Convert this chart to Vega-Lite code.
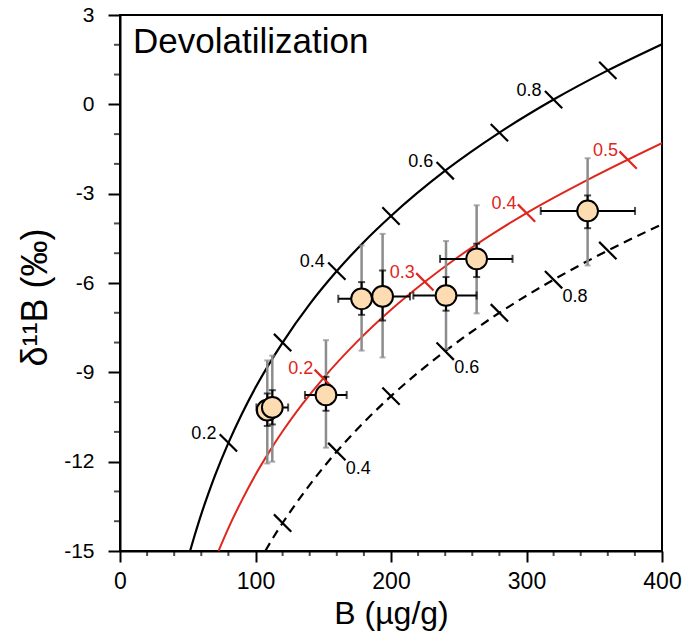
{
  "$schema": "https://vega.github.io/schema/vega-lite/v6.json",
  "width": 542,
  "height": 536,
  "autosize": {"type": "none"},
  "padding": {"left": 120, "top": 15, "right": 23, "bottom": 86},
  "background": "white",
  "config": {
    "view": {"stroke": "black", "strokeWidth": 2},
    "font": "Liberation Sans",
    "axis": {"grid": false, "domainColor": "black", "domainWidth": 2, "tickColor": "black", "tickWidth": 2, "labelColor": "black", "titleColor": "black", "labelFont": "Liberation Sans", "titleFont": "Liberation Sans", "titleFontWeight": "normal", "labelFlush": false, "labelOverlap": false}
  },
  "datasets": {
    "solid": [
      {"x": 51.7, "y": -15}, {"x": 55, "y": -14.49}, {"x": 60, "y": -13.76}, {"x": 65, "y": -13.1}, {"x": 70, "y": -12.48}, {"x": 80, "y": -11.37}, {"x": 90, "y": -10.39}, {"x": 100, "y": -9.51}, {"x": 120, "y": -8.0}, {"x": 140, "y": -6.71}, {"x": 160, "y": -5.6}, {"x": 180, "y": -4.62}, {"x": 200, "y": -3.75}, {"x": 240, "y": -2.23}, {"x": 280, "y": -0.95}, {"x": 320, "y": 0.16}, {"x": 360, "y": 1.14}, {"x": 400, "y": 2.02}
    ],
    "red": [
      {"x": 72.7, "y": -15}, {"x": 80, "y": -14.23}, {"x": 90, "y": -13.29}, {"x": 100, "y": -12.44}, {"x": 110, "y": -11.68}, {"x": 120, "y": -10.98}, {"x": 135, "y": -10.04}, {"x": 150, "y": -9.2}, {"x": 175, "y": -7.97}, {"x": 200, "y": -6.9}, {"x": 225, "y": -5.96}, {"x": 250, "y": -5.11}, {"x": 275, "y": -4.35}, {"x": 300, "y": -3.65}, {"x": 350, "y": -2.42}, {"x": 400, "y": -1.3}
    ],
    "dashed": [
      {"x": 107.2, "y": -15}, {"x": 115, "y": -14.41}, {"x": 120, "y": -14.06}, {"x": 140, "y": -12.78}, {"x": 160, "y": -11.66}, {"x": 180, "y": -10.68}, {"x": 200, "y": -9.8}, {"x": 220, "y": -9.01}, {"x": 240, "y": -8.29}, {"x": 280, "y": -7.0}, {"x": 320, "y": -5.89}, {"x": 360, "y": -4.91}, {"x": 400, "y": -4.03}
    ],
    "marks": [
      {"curve": "solid", "x": 80, "y": -11.37, "label": "0.2"},
      {"curve": "solid", "x": 120, "y": -8.0, "label": ""},
      {"curve": "solid", "x": 160, "y": -5.6, "label": "0.4"},
      {"curve": "solid", "x": 200, "y": -3.75, "label": ""},
      {"curve": "solid", "x": 240, "y": -2.23, "label": "0.6"},
      {"curve": "solid", "x": 280, "y": -0.95, "label": ""},
      {"curve": "solid", "x": 320, "y": 0.16, "label": "0.8"},
      {"curve": "solid", "x": 360, "y": 1.14, "label": ""},
      {"curve": "red", "x": 150, "y": -9.2, "label": "0.2"},
      {"curve": "red", "x": 225, "y": -5.96, "label": "0.3"},
      {"curve": "red", "x": 300, "y": -3.65, "label": "0.4"},
      {"curve": "red", "x": 375, "y": -1.87, "label": "0.5"},
      {"curve": "dashed", "x": 120, "y": -14.06, "label": ""},
      {"curve": "dashed", "x": 160, "y": -11.66, "label": "0.4"},
      {"curve": "dashed", "x": 200, "y": -9.8, "label": ""},
      {"curve": "dashed", "x": 240, "y": -8.29, "label": "0.6"},
      {"curve": "dashed", "x": 280, "y": -7.0, "label": ""},
      {"curve": "dashed", "x": 320, "y": -5.89, "label": "0.8"},
      {"curve": "dashed", "x": 360, "y": -4.91, "label": ""}
    ],
    "samples": [
      {"x": 108.7, "y": -10.27, "xlo": 101.3, "xhi": 116.1, "glo": -12.06, "ghi": -8.6, "blo": -10.8, "bhi": -9.71},
      {"x": 112.4, "y": -10.18, "xlo": 100.7, "xhi": 124.1, "glo": -12.0, "ghi": -8.44, "blo": -10.75, "bhi": -9.6},
      {"x": 152, "y": -9.76, "xlo": 136.5, "xhi": 167.3, "glo": -11.53, "ghi": -7.92, "blo": -10.29, "bhi": -9.15},
      {"x": 178.3, "y": -6.53, "xlo": 161.1, "xhi": 195.5, "glo": -8.27, "ghi": -4.74, "blo": -7.07, "bhi": -5.97},
      {"x": 193.8, "y": -6.45, "xlo": 173.6, "xhi": 214, "glo": -8.5, "ghi": -4.35, "blo": -7.26, "bhi": -5.58},
      {"x": 240.6, "y": -6.42, "xlo": 216.5, "xhi": 263.2, "glo": -8.22, "ghi": -4.59, "blo": -6.93, "bhi": -5.8},
      {"x": 263.2, "y": -5.19, "xlo": 236.2, "xhi": 289.7, "glo": -7.02, "ghi": -3.39, "blo": -5.8, "bhi": -4.68},
      {"x": 345.1, "y": -3.58, "xlo": 310.5, "xhi": 380.1, "glo": -5.41, "ghi": -1.81, "blo": -4.16, "bhi": -3.06}
    ],
    "xminor": [
      {"v": 20}, {"v": 40}, {"v": 60}, {"v": 80}, {"v": 120}, {"v": 140}, {"v": 160}, {"v": 180}, {"v": 220}, {"v": 240}, {"v": 260}, {"v": 280}, {"v": 320}, {"v": 340}, {"v": 360}, {"v": 380}
    ],
    "yminor": [
      {"v": -14}, {"v": -13}, {"v": -11}, {"v": -10}, {"v": -8}, {"v": -7}, {"v": -5}, {"v": -4}, {"v": -2}, {"v": -1}, {"v": 1}, {"v": 2}
    ]
  },
  "layer": [
    {
      "data": {"name": "solid"},
      "mark": {"type": "line", "color": "black", "strokeWidth": 2.2, "interpolate": "monotone", "clip": true},
      "encoding": {
        "x": {"field": "x", "type": "quantitative", "scale": {"domain": [0, 400], "nice": false, "zero": false},
          "axis": {"values": [0, 100, 200, 300, 400],
            "format": "d",
            "tickSize": 11,
            "labelFontSize": 23, "labelPadding": 8,
            "title": "B (µg/g)", "titleFontSize": 32, "titleY": 72, "titleBaseline": "alphabetic"}},
        "y": {"field": "y", "type": "quantitative", "scale": {"domain": [-15, 3], "nice": false, "zero": false},
          "axis": {"values": [-15, -12, -9, -6, -3, 0, 3],
            "labelExpr": "'' + datum.value",
            "tickSize": 12,
            "labelFontSize": 21, "labelPadding": 14,
            "title": "δ¹¹B (‰)", "titleFontSize": 36, "titleX": -74, "titleY": 282, "titleAngle": 270, "titleAlign": "center", "titleBaseline": "alphabetic"}}
      }
    },
    {
      "data": {"name": "red"},
      "mark": {"type": "line", "color": "#e0261c", "strokeWidth": 2, "interpolate": "monotone", "clip": true},
      "encoding": {"x": {"field": "x", "type": "quantitative"}, "y": {"field": "y", "type": "quantitative"}}
    },
    {
      "data": {"name": "dashed"},
      "mark": {"type": "line", "color": "black", "strokeWidth": 2.2, "strokeDash": [9, 6], "interpolate": "monotone", "clip": true},
      "encoding": {"x": {"field": "x", "type": "quantitative"}, "y": {"field": "y", "type": "quantitative"}}
    },
    {
      "data": {"name": "xminor"},
      "mark": {"type": "tick", "orient": "vertical", "color": "black", "size": 4, "thickness": 2, "yOffset": 3},
      "encoding": {"x": {"field": "v", "type": "quantitative"}, "y": {"datum": -15}}
    },
    {
      "data": {"name": "yminor"},
      "mark": {"type": "tick", "orient": "horizontal", "color": "black", "size": 6, "thickness": 2, "xOffset": -3},
      "encoding": {"y": {"field": "v", "type": "quantitative"}, "x": {"datum": 0}}
    },
    {
      "data": {"name": "samples"},
      "mark": {"type": "rule", "color": "#8c8c8c", "strokeWidth": 2.5},
      "encoding": {"x": {"field": "x", "type": "quantitative"}, "y": {"field": "glo", "type": "quantitative"}, "y2": {"field": "ghi"}}
    },
    {
      "data": {"name": "samples"},
      "mark": {"type": "tick", "orient": "horizontal", "color": "#8c8c8c", "size": 6, "thickness": 2},
      "encoding": {"x": {"field": "x", "type": "quantitative"}, "y": {"field": "glo", "type": "quantitative"}}
    },
    {
      "data": {"name": "samples"},
      "mark": {"type": "tick", "orient": "horizontal", "color": "#8c8c8c", "size": 6, "thickness": 2},
      "encoding": {"x": {"field": "x", "type": "quantitative"}, "y": {"field": "ghi", "type": "quantitative"}}
    },
    {
      "data": {"name": "samples"},
      "mark": {"type": "rule", "color": "black", "strokeWidth": 2},
      "encoding": {"x": {"field": "x", "type": "quantitative"}, "y": {"field": "blo", "type": "quantitative"}, "y2": {"field": "bhi"}}
    },
    {
      "data": {"name": "samples"},
      "mark": {"type": "tick", "orient": "horizontal", "color": "black", "size": 7, "thickness": 2},
      "encoding": {"x": {"field": "x", "type": "quantitative"}, "y": {"field": "blo", "type": "quantitative"}}
    },
    {
      "data": {"name": "samples"},
      "mark": {"type": "tick", "orient": "horizontal", "color": "black", "size": 7, "thickness": 2},
      "encoding": {"x": {"field": "x", "type": "quantitative"}, "y": {"field": "bhi", "type": "quantitative"}}
    },
    {
      "data": {"name": "samples"},
      "mark": {"type": "rule", "color": "black", "strokeWidth": 2},
      "encoding": {"x": {"field": "xlo", "type": "quantitative"}, "x2": {"field": "xhi"}, "y": {"field": "y", "type": "quantitative"}}
    },
    {
      "data": {"name": "samples"},
      "mark": {"type": "tick", "orient": "vertical", "color": "black", "size": 8, "thickness": 2},
      "encoding": {"x": {"field": "xlo", "type": "quantitative"}, "y": {"field": "y", "type": "quantitative"}}
    },
    {
      "data": {"name": "samples"},
      "mark": {"type": "tick", "orient": "vertical", "color": "black", "size": 8, "thickness": 2},
      "encoding": {"x": {"field": "xhi", "type": "quantitative"}, "y": {"field": "y", "type": "quantitative"}}
    },
    {
      "data": {"name": "marks"},
      "mark": {"type": "point", "shape": "M-1,-1L1,1", "filled": false, "size": 300, "strokeWidth": 2.2, "opacity": 1},
      "encoding": {
        "x": {"field": "x", "type": "quantitative"},
        "y": {"field": "y", "type": "quantitative"},
        "color": {"field": "curve", "type": "nominal", "scale": {"domain": ["solid", "red", "dashed"], "range": ["black", "#e0261c", "black"]}, "legend": null}
      }
    },
    {
      "data": {"name": "marks"},
      "transform": [{"filter": "datum.curve === 'solid' && datum.label !== ''"}],
      "mark": {"type": "text", "align": "right", "baseline": "middle", "dx": -12, "dy": -9, "fontSize": 18, "color": "black", "font": "Liberation Sans"},
      "encoding": {"x": {"field": "x", "type": "quantitative"}, "y": {"field": "y", "type": "quantitative"}, "text": {"field": "label"}}
    },
    {
      "data": {"name": "marks"},
      "transform": [{"filter": "datum.curve === 'red' && datum.label !== ''"}],
      "mark": {"type": "text", "align": "right", "baseline": "middle", "dx": -10, "dy": -9, "fontSize": 18, "color": "#e0261c", "font": "Liberation Sans"},
      "encoding": {"x": {"field": "x", "type": "quantitative"}, "y": {"field": "y", "type": "quantitative"}, "text": {"field": "label"}}
    },
    {
      "data": {"name": "marks"},
      "transform": [{"filter": "datum.curve === 'dashed' && datum.label !== ''"}],
      "mark": {"type": "text", "align": "left", "baseline": "middle", "dx": 9, "dy": 17, "fontSize": 18, "color": "black", "font": "Liberation Sans"},
      "encoding": {"x": {"field": "x", "type": "quantitative"}, "y": {"field": "y", "type": "quantitative"}, "text": {"field": "label"}}
    },
    {
      "data": {"name": "samples"},
      "mark": {"type": "point", "shape": "circle", "filled": true, "fill": "#fddcb1", "stroke": "black", "strokeWidth": 2, "size": 430, "opacity": 1},
      "encoding": {"x": {"field": "x", "type": "quantitative"}, "y": {"field": "y", "type": "quantitative"}}
    },
    {
      "data": {"values": [{"label": "Devolatilization"}]},
      "mark": {"type": "text", "align": "left", "baseline": "alphabetic", "fontSize": 35, "color": "black", "font": "Liberation Sans"},
      "encoding": {"x": {"datum": 9.6}, "y": {"datum": 1.72}, "text": {"field": "label"}}
    }
  ]
}
